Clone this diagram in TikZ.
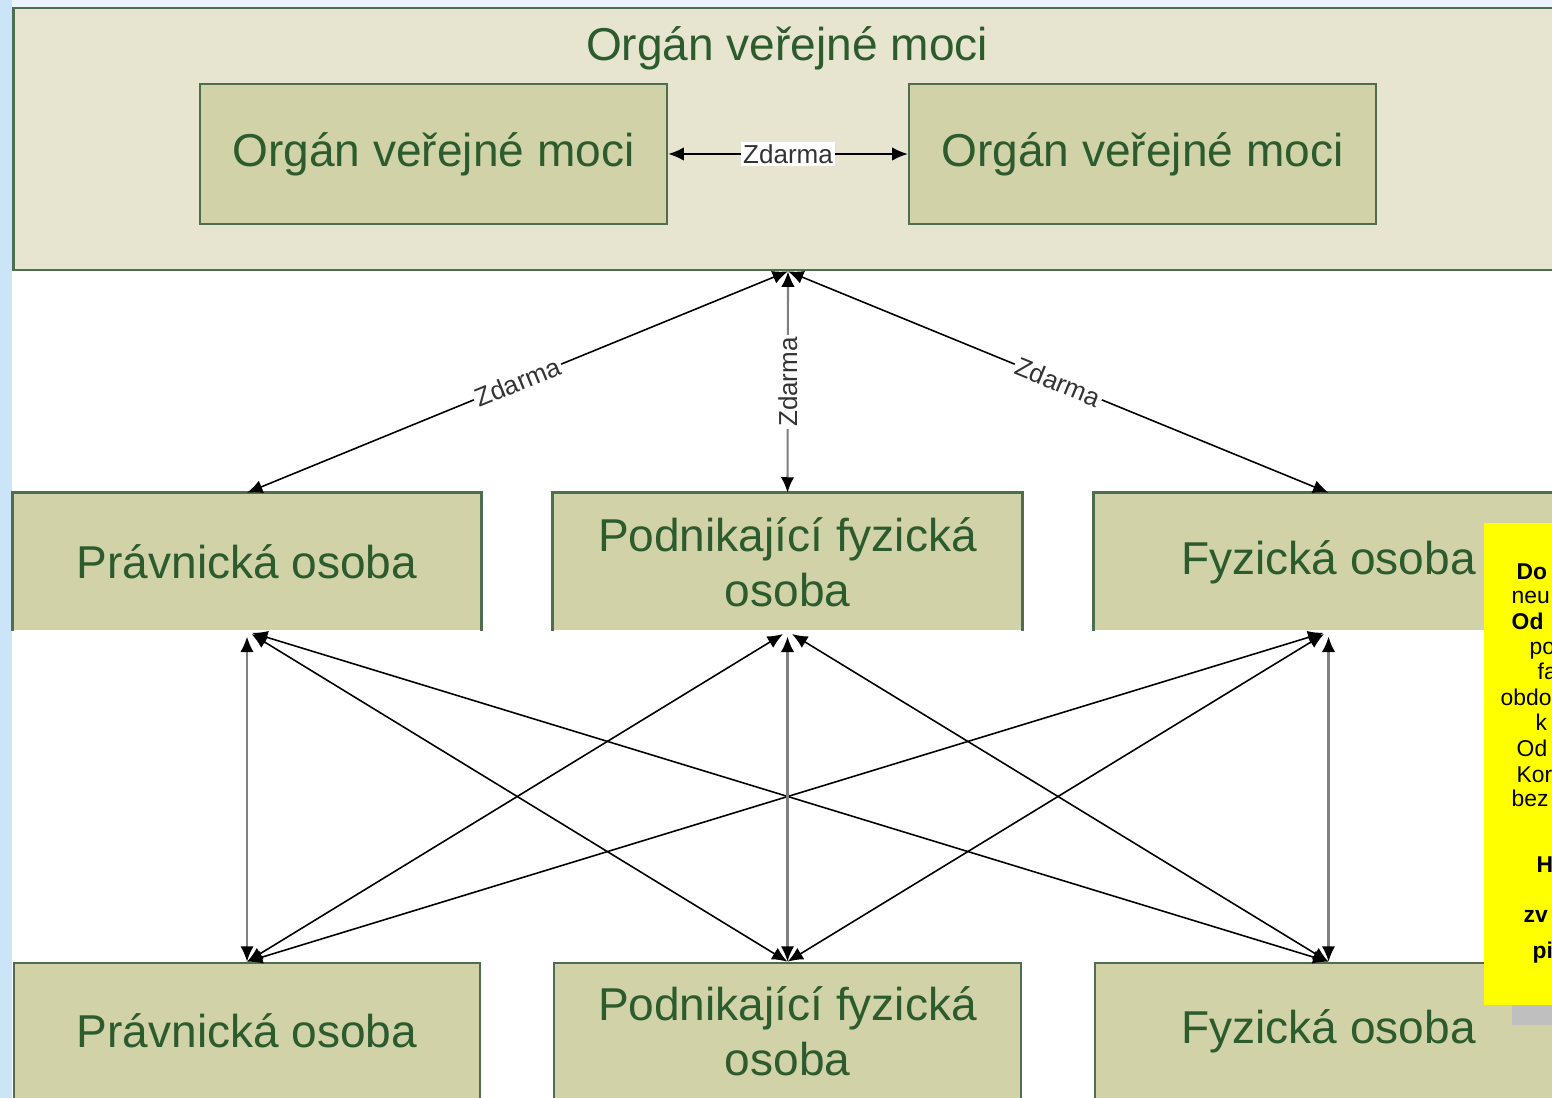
\documentclass[tikz,border=0pt]{standalone}
\usepackage{fontspec}
\setmainfont{Liberation Sans}
\usetikzlibrary{arrows.meta}
\definecolor{frame}{HTML}{4E6F4F}
\definecolor{pale}{HTML}{E7E5CF}
\definecolor{olive}{HTML}{D2D2A8}
\definecolor{ink}{HTML}{2C5B2E}
\definecolor{strip}{HTML}{CCE4F7}
\definecolor{note}{HTML}{FFFF00}
\tikzset{
BOX/.style={fill=olive,draw=frame,line width=0.7pt,minimum width=4.67cm,minimum height=1.36cm,inner sep=0pt,text=ink,align=center,font=\fontsize{13.1}{15.6}\selectfont},
OPEN/.style={BOX,draw=none},
LINK/.style={{Latex[length=4.4pt,width=3.8pt]}-{Latex[length=4.4pt,width=3.8pt]},line width=0.45pt,draw=black},
VLINK/.style={{Latex[length=4.4pt,width=3.8pt,color=black]}-{Latex[length=4.4pt,width=3.8pt,color=black]},line width=0.6pt,draw=black!50},
TAG/.style={fill=white,inner sep=0.6pt,text=black!80,font=\fontsize{7.4}{8}\selectfont},
NOTE/.style={anchor=base west,inner sep=0pt,font=\fontsize{6.5}{7}\selectfont},
}
\begin{document}
\begin{tikzpicture}[x=0.01cm,y=-0.01cm]
	\useasboundingbox (0,0) rectangle (1552,1098);
	\clip (0,0) rectangle (1552,1098);
	%background
	\fill[strip] (0,0) rectangle (12,1098);
	\fill[strip!40] (12,0) rectangle (1552,8);
	%top
	\node[BOX,fill=pale,minimum width=15.48cm,minimum height=2.62cm] (ovm) at (788,139) {};
	\node[text=ink,font=\fontsize{13.1}{15.6}\selectfont] (title) at (787,48) {Orgán veřejné moci};
	\node[BOX,minimum height=1.40cm] (ovm1) at (433.5,154) {Orgán veřejné moci};
	\node[BOX,minimum height=1.40cm] (ovm2) at (1142.5,154) {Orgán veřejné moci};
	\draw[LINK] (ovm1) -- node[TAG]{Zdarma} (ovm2);
	%middle row
	\node[OPEN,minimum width=4.66cm] (pl) at (247,562) {Právnická osoba};
	\node[OPEN] (pfo) at (787.5,562) {Podnikající fyzická\\osoba};
	\node[OPEN] (fo) at (1328.5,562) {Fyzická osoba};
	\foreach \n in {pl,pfo,fo}
		\draw[frame,line width=0.7pt] (\n.south west) -- (\n.north west) -- (\n.north east) -- (\n.south east);
	\draw[LINK] (ovm.south) -- node[TAG,sloped]{Zdarma} (pl.north);
	\draw[VLINK] (ovm.south) -- node[TAG,rotate=90]{Zdarma} (pfo.north);
	\draw[LINK] (ovm.south) -- node[TAG,sloped]{Zdarma} (fo.north);
	%bottom row
	\node[BOX,minimum width=4.66cm] (pl2) at (247,1031) {Právnická osoba};
	\node[BOX] (pfo2) at (787.5,1031) {Podnikající fyzická\\osoba};
	\node[BOX] (fo2) at (1328.5,1031) {Fyzická osoba};
	%crossing
	\foreach \a/\b in {pl/pfo2,pl/fo2,pfo/pl2,pfo/fo2,fo/pl2,fo/pfo2}
		\draw[LINK,shorten <=1.5pt] (\a.south) -- (\b.north);
	\foreach \a/\b in {pl/pl2,pfo/pfo2,fo/fo2}
		\draw[VLINK,shorten <=1.5pt] (\a.south) -- (\b.north);
	%note
	\fill[black!25] (1512,543) rectangle (1580,1025);
	\fill[note] (1484,523) rectangle (1580,1005);
	\foreach \x/\y/\t in {1516/580/{\textbf{Do}},1511/604/neu,1511/630/{\textbf{Od}},1529/655/po,
		1537/680/fa,1500/706/obdo,1535/731/k,1516/757/Od,1516/782/Kor,1511/807/bez,
		1536/872/{\textbf{H}},1523/922/{\textbf{zv}},1532/958/{\textbf{pi}}}
		\node[NOTE] at (\x,\y) {\t};
\end{tikzpicture}
\end{document}
